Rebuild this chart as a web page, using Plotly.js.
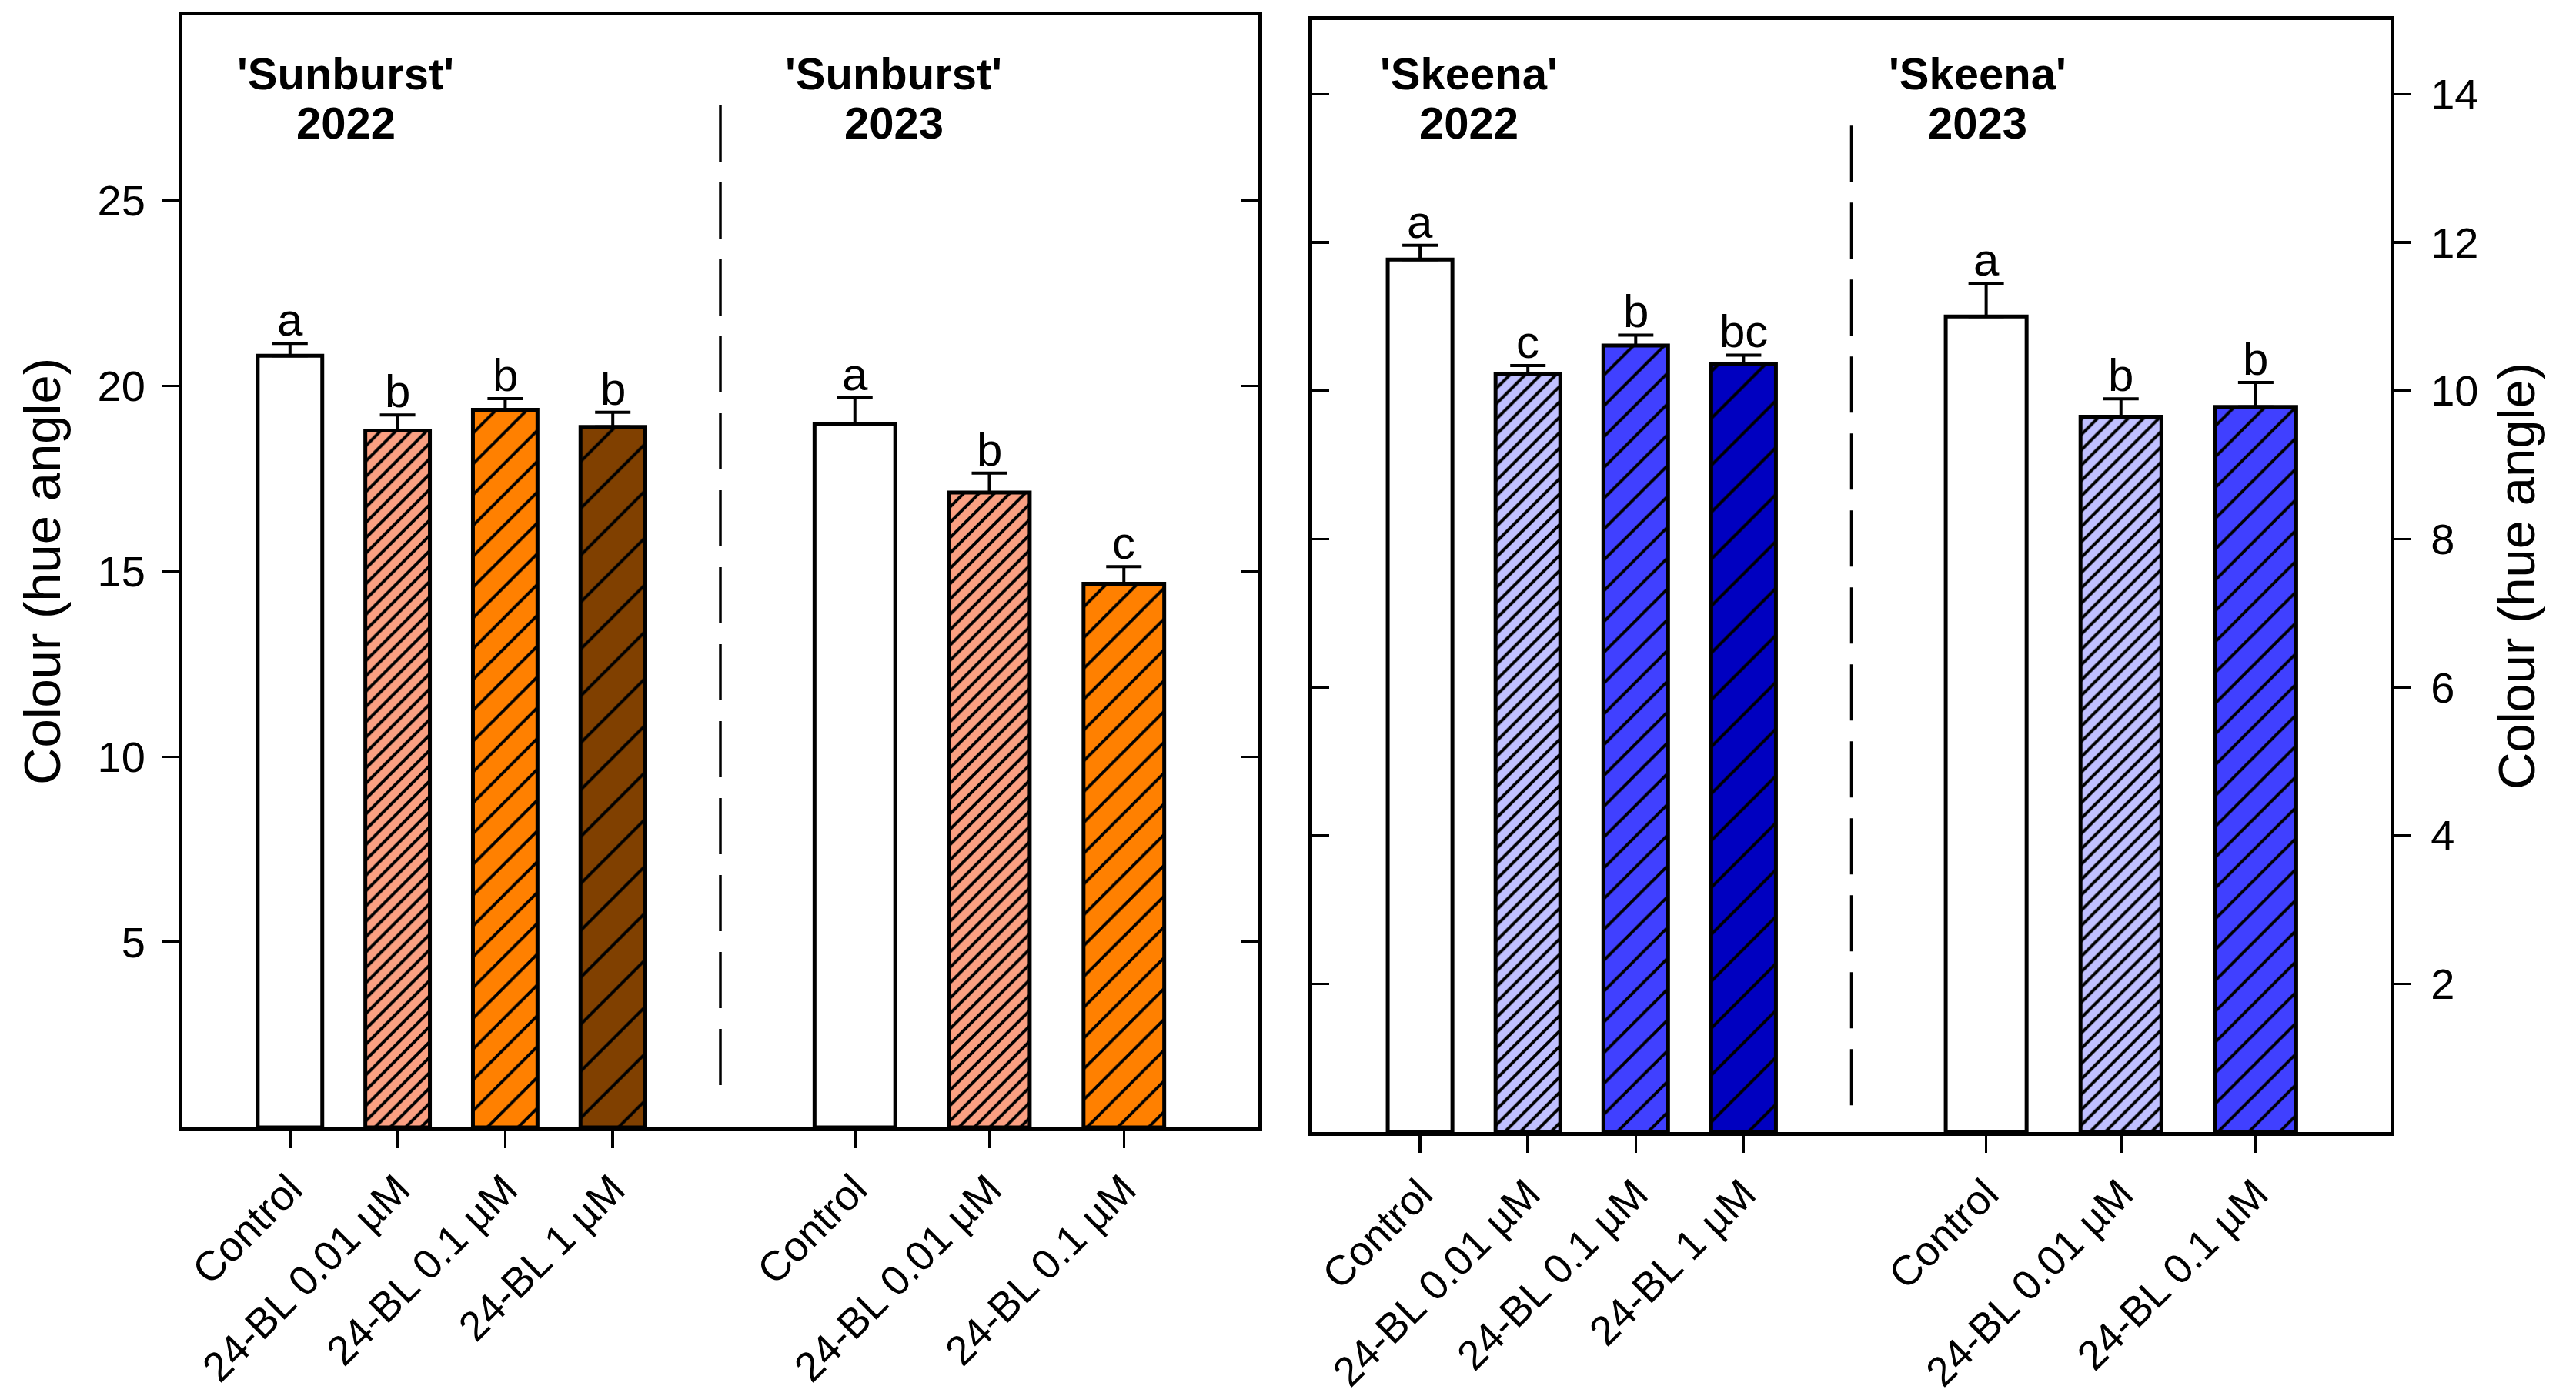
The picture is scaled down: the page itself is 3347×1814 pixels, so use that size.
<!DOCTYPE html>
<html>
<head>
<meta charset="utf-8">
<script src="https://cdn.plot.ly/plotly-3.0.1.min.js"></script>
<style>html,body{margin:0;padding:0;background:#fff;}#chart{width:3347px;height:1814px;}</style>
</head>
<body>
<div id="chart"></div>
<script>
// ---- data ----
const cats2022 = ['Control', '24-BL 0.01 µM', '24-BL 0.1 µM', '24-BL 1 µM'];
const cats2023 = ['Control', '24-BL 0.01 µM', '24-BL 0.1 µM'];

const sunburst2022 = [20.82, 18.80, 19.36, 18.90];
const sunburst2022Err = [0.33, 0.42, 0.30, 0.39];
const sunburst2022Letters = ['a', 'b', 'b', 'b'];

const sunburst2023 = [18.97, 17.13, 14.67];
const sunburst2023Err = [0.72, 0.52, 0.46];
const sunburst2023Letters = ['a', 'b', 'c'];

const skeena2022 = [11.77, 10.22, 10.61, 10.36];
const skeena2022Err = [0.19, 0.12, 0.14, 0.12];
const skeena2022Letters = ['a', 'c', 'b', 'bc'];

const skeena2023 = [11.00, 9.65, 9.78];
const skeena2023Err = [0.45, 0.24, 0.33];
const skeena2023Letters = ['a', 'b', 'b'];

const yTitle = 'Colour (hue angle)';

// ---- styles ----
const FONT = 'Liberation Sans, Arial, sans-serif';
const orangeFills = ['#FFFFFF', '#FAA082', '#FF8000', '#804000'];
const blueFills = ['#FFFFFF', '#C0C0FF', '#4040FF', '#0000C0'];
const patShape = ['', '/', '/', '/'];
const patSize = [10, 14.1, 28.3, 43.1];
const patSolid = [0.3, 0.28, 0.14, 0.093];

function barTrace(cats, vals, errs, fills, xa, ya) {
  const n = cats.length;
  return {
    type: 'bar', x: cats, y: vals, xaxis: xa, yaxis: ya,
    marker: {
      color: '#FFFFFF',
      line: {color: '#000', width: 5},
      pattern: {shape: patShape.slice(0, n), size: patSize.slice(0, n),
                solidity: patSolid.slice(0, n),
                fgcolor: fills.slice(0, n).map(() => '#000000'),
                bgcolor: fills.slice(0, n), fgopacity: 1, fillmode: 'replace'}
    },
    error_y: {type: 'data', symmetric: false, array: errs, arrayminus: errs.map(() => 0),
              color: '#000', thickness: 4, width: 23},
    hoverinfo: 'none', showlegend: false
  };
}

const traces = [
  barTrace(cats2022, sunburst2022, sunburst2022Err, orangeFills, 'x', 'y'),
  barTrace(cats2023, sunburst2023, sunburst2023Err, orangeFills, 'x2', 'y2'),
  barTrace(cats2022, skeena2022, skeena2022Err, blueFills, 'x3', 'y3'),
  barTrace(cats2023, skeena2023, skeena2023Err, blueFills, 'x4', 'y4')
];

// ---- layout ----
const W = 3347, H = 1814;
const L = {x0: 237 / W, x1: 1635 / W, y0: (H - 1465) / H, y1: (H - 20) / H};
const R = {x0: 1705 / W, x1: 3106 / W, y0: (H - 1471) / H, y1: (H - 26) / H};
const Lmid = (L.x0 + L.x1) / 2, Rmid = (R.x0 + R.x1) / 2;

const tickFont = {family: FONT, size: 56, color: '#000'};
const titleFont = {family: FONT, size: 67, color: '#000'};

function xAx(domain, anchor, n) {
  return {
    domain: domain, anchor: anchor, type: 'category', range: [-1, n],
    showline: true, linecolor: '#000', linewidth: 5, mirror: true,
    ticks: 'outside', ticklen: 22, tickwidth: 3.5, tickcolor: '#000',
    tickangle: -45, tickfont: {family: FONT, size: 54, color: '#000'},
    showgrid: false, zeroline: false, fixedrange: true
  };
}
function yAx(domain, anchor, range, dtick, side, ticks, labels, extra) {
  return Object.assign({
    domain: domain, anchor: anchor, range: range, side: side,
    tick0: 0, dtick: dtick,
    showline: true, linecolor: '#000', linewidth: 5,
    ticks: ticks, ticklen: 22, tickwidth: 3.5, tickcolor: '#000',
    showticklabels: labels, tickfont: tickFont,
    showgrid: false, zeroline: false, fixedrange: true
  }, extra || {});
}

const leftTickVals = [5, 10, 15, 20, 25];
const rightTickVals = [2, 4, 6, 8, 10, 12, 14];

const layout = {
  width: W, height: H,
  margin: {l: 0, r: 0, t: 0, b: 0, pad: 0},
  paper_bgcolor: '#fff', plot_bgcolor: 'rgba(0,0,0,0)',
  bargap: 0.4,
  font: {family: FONT, color: '#000'},
  xaxis: xAx([L.x0, Lmid], 'y', cats2022.length),
  xaxis2: xAx([Lmid, L.x1], 'y', cats2023.length),
  xaxis3: xAx([R.x0, Rmid], 'y3', cats2022.length),
  xaxis4: xAx([Rmid, R.x1], 'y3', cats2023.length),
  yaxis: yAx([L.y0, L.y1], 'x', [0, 30], 5, 'left', 'outside', true,
             {tickmode: 'array', tickvals: leftTickVals, ticklabelstandoff: 10,
              title: {text: yTitle, font: titleFont, standoff: 28}}),
  yaxis2: yAx([L.y0, L.y1], 'x2', [0, 30], 5, 'right', 'inside', false,
             {overlaying: 'y', tickmode: 'array', tickvals: leftTickVals}),
  yaxis3: yAx([R.y0, R.y1], 'x3', [0, 15], 2, 'left', 'inside', false,
             {tickmode: 'array', tickvals: rightTickVals}),
  yaxis4: yAx([R.y0, R.y1], 'x4', [0, 15], 2, 'right', 'outside', true,
             {overlaying: 'y3', tickmode: 'array', tickvals: rightTickVals, ticklabelstandoff: 14,
              title: {text: yTitle, font: titleFont, standoff: 28}}),
  shapes: [
    {type: 'line', xref: 'x domain', yref: 'y', x0: 1, x1: 1, y0: 1.14, y1: 27.76,
     line: {color: '#000', width: 3.5, dash: '73px,27px'}},
    {type: 'line', xref: 'x3 domain', yref: 'y3', x0: 1, x1: 1, y0: 0.36, y1: 13.68,
     line: {color: '#000', width: 3.5, dash: '73px,27px'}}
  ],
  annotations: []
};

// group labels
function groupLabel(xPaper, line1, line2) {
  const f = {family: FONT, size: 58, color: '#000', weight: 'bold'};
  layout.annotations.push({xref: 'paper', yref: 'paper', x: xPaper, y: (H - 130) / H,
    xanchor: 'center', yanchor: 'bottom', showarrow: false, text: '<b>' + line1 + '</b>', font: f});
  layout.annotations.push({xref: 'paper', yref: 'paper', x: xPaper, y: (H - 194) / H,
    xanchor: 'center', yanchor: 'bottom', showarrow: false, text: '<b>' + line2 + '</b>', font: f});
}
groupLabel((237 + 0.152 * 1398) / W, "'Sunburst'", '2022');
groupLabel((237 + 0.661 * 1398) / W, "'Sunburst'", '2023');
groupLabel((1705 + 0.145 * 1401) / W, "'Skeena'", '2022');
groupLabel((1705 + 0.617 * 1401) / W, "'Skeena'", '2023');

// significance letters
function letters(cats, vals, errs, labs, xa, ya) {
  cats.forEach((c, i) => {
    layout.annotations.push({xref: xa, yref: ya, x: c, y: vals[i] + errs[i],
      xanchor: 'center', yanchor: 'bottom', yshift: -5, showarrow: false, text: labs[i],
      font: {family: FONT, size: 60, color: '#000'}});
  });
}
letters(cats2022, sunburst2022, sunburst2022Err, sunburst2022Letters, 'x', 'y');
letters(cats2023, sunburst2023, sunburst2023Err, sunburst2023Letters, 'x2', 'y2');
letters(cats2022, skeena2022, skeena2022Err, skeena2022Letters, 'x3', 'y3');
letters(cats2023, skeena2023, skeena2023Err, skeena2023Letters, 'x4', 'y4');

Plotly.newPlot('chart', traces, layout, {staticPlot: true, displayModeBar: false});
</script>
</body>
</html>
